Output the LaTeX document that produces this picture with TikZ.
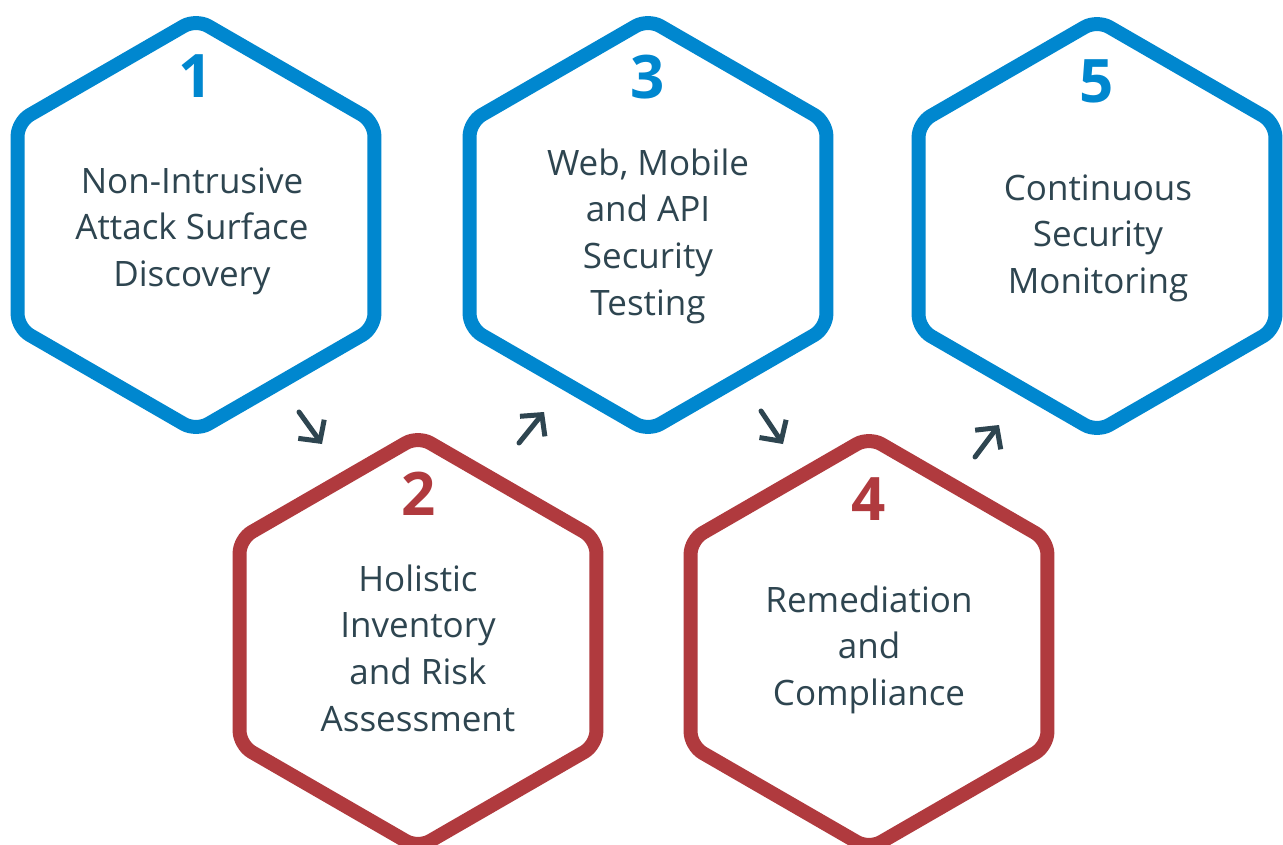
\documentclass[tikz,border=0pt]{standalone}
\usepackage{fontspec}
\setmainfont{Open Sans}
\usetikzlibrary{shapes.geometric,arrows.meta}
\definecolor{hexblue}{HTML}{0087CF}
\definecolor{hexred}{HTML}{B03A3E}
\definecolor{ink}{HTML}{2E4550}
\begin{document}
\begin{tikzpicture}[x=1pt,y=-1pt,
  hex/.style={draw, regular polygon, regular polygon sides=6, shape border rotate=30,
    minimum size=412pt, inner sep=0pt, line width=14pt, rounded corners=14pt},
  bluehex/.style={hex, draw=hexblue},
  redhex/.style={hex, draw=hexred},
  num/.style={anchor=base, inner sep=0pt, font=\fontsize{60}{60}\selectfont\bfseries},
  label/.style={anchor=north, inner sep=0pt, align=center, text=ink, font=\fontsize{35}{46.7}\selectfont},
  flow/.style={draw=ink, line width=5pt, line cap=round, -{Straight Barb[length=15pt,width=32pt]}}
]
\fill[white] (0,0) rectangle (1283,845);
\useasboundingbox (0,0) rectangle (1283,845);
\clip (0,0) rectangle (1283,845);

\node[bluehex] (h1) at (196,225) {};
\node[redhex]  (h2) at (418,642) {};
\node[bluehex] (h3) at (648,225) {};
\node[redhex]  (h4) at (869,643) {};
\node[bluehex] (h5) at (1097,226) {};

\node[num, text=hexblue] (n1) at (196,98) {1};
\node[num, text=hexred]  (n2) at (419,515) {2};
\node[num, text=hexblue] (n3) at (648,99) {3};
\node[num, text=hexred]  (n4) at (869,520) {4};
\node[num, text=hexblue] (n5) at (1097,103) {5};

\node[label] (t1) at (192,160.3) {\strut Non-Intrusive\\Attack Surface\\Discovery\strut};
\node[label] (t2) at (418,558.3) {\strut Holistic\\Inventory\\and Risk\\Assessment\strut};
\node[label] (t3) at (648,142.3) {\strut Web, Mobile\\and API\\Security\\Testing\strut};
\node[label] (t4) at (869,579.3) {\strut Remediation\\and\\Compliance\strut};
\node[label] (t5) at (1098,167.3) {\strut Continuous\\Security\\Monitoring\strut};

\coordinate (a1s) at (299,412);
\coordinate (a1e) at (322,444);
\coordinate (a2s) at (519,443);
\coordinate (a2e) at (544,412);
\coordinate (a3s) at (761,411);
\coordinate (a3e) at (783,444);
\coordinate (a4s) at (975,457);
\coordinate (a4e) at (999,425);

\draw[flow] (a1s) -- (a1e);
\draw[flow] (a2s) -- (a2e);
\draw[flow] (a3s) -- (a3e);
\draw[flow] (a4s) -- (a4e);
\end{tikzpicture}
\end{document}
